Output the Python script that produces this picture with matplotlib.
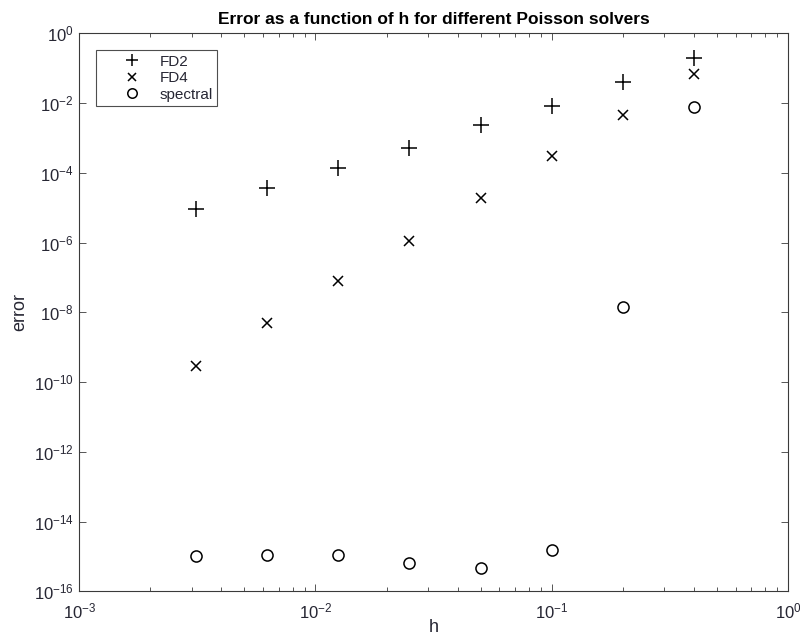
import matplotlib
matplotlib.use("Agg")
import matplotlib.pyplot as plt
from matplotlib.ticker import LogLocator, NullFormatter, NullLocator

plt.rcParams['font.family'] = ['Liberation Sans', 'DejaVu Sans']
plt.rcParams['mathtext.fontset'] = 'custom'
plt.rcParams['mathtext.rm'] = 'Liberation Sans'
plt.rcParams['axes.unicode_minus'] = False

h = [0.4, 0.2, 0.1, 0.05, 0.025, 0.0125, 0.00625, 0.003125]
err_fd2 = [0.19, 0.039, 8.0e-3, 2.3e-3, 5.0e-4, 1.34e-4, 3.6e-5, 8.9e-6]
err_fd4 = [0.067, 4.4e-3, 3.0e-4, 1.85e-5, 1.08e-6, 7.7e-8, 4.8e-9, 2.8e-10]
err_spectral = [7.6e-3, 1.38e-8, 1.5e-15, 4.6e-16, 6.4e-16, 1.12e-15, 1.12e-15, 1.0e-15]
x_tick_exponents = [-3, -2, -1, 0]
y_tick_exponents = [-16, -14, -12, -10, -8, -6, -4, -2, 0]

fig = plt.figure(figsize=(8, 6.4), dpi=100)
ax = fig.add_axes([0.099, 0.076, 0.886, 0.872])

ax.loglog(h, err_fd2, linestyle='none', marker='+', markersize=11, markeredgewidth=1.1,
          color='black', label='FD2')
ax.loglog(h, err_fd4, linestyle='none', marker='x', markersize=7, markeredgewidth=1.1,
          color='black', label='FD4')
ax.loglog(h, err_spectral, linestyle='none', marker='o', markersize=8, markeredgewidth=1.1,
          markerfacecolor='none', color='black', label='spectral')

ax.set_xlim(1e-3, 1e0)
ax.set_ylim(1e-16, 1e0)
ax.set_xticks([10.0 ** e for e in x_tick_exponents])
ax.set_yticks([10.0 ** e for e in y_tick_exponents])
ax.xaxis.set_minor_locator(LogLocator(base=10, subs=range(2, 10), numticks=20))
ax.xaxis.set_minor_formatter(NullFormatter())
ax.yaxis.set_minor_locator(NullLocator())
ax.set_xlim(1e-3, 1e0)
ax.set_ylim(1e-16, 1e0)

edge = '#3a3a3a'
txt = '#262633'
for s in ax.spines.values():
    s.set_color(edge)
    s.set_linewidth(0.8)
ax.tick_params(which='both', direction='in', top=True, right=True, colors=edge,
               labelcolor=txt, labelsize=12, width=0.6)
ax.tick_params(which='major', length=5)
ax.tick_params(which='minor', length=3)
ax.tick_params(axis='x', which='both', pad=7.5)
ax.tick_params(axis='y', which='both', pad=4)

ax.set_title('Error as a function of h for different Poisson solvers',
             fontsize=12.5, fontweight='bold', pad=7)
ax.set_xlabel('h', fontsize=13, color=txt, labelpad=-2)
ax.set_ylabel('error', fontsize=13, color=txt, labelpad=4)

leg = ax.legend(loc='upper left', bbox_to_anchor=(0.0235, 0.97), fontsize=11,
                frameon=True, fancybox=False, edgecolor='#222222', markerscale=0.85,
                borderpad=0.3, labelspacing=0.17, handletextpad=-0.25, handlelength=4.1,
                borderaxespad=0)
leg.get_frame().set_linewidth(0.8)
for t in leg.get_texts():
    t.set_color(txt)

fig.savefig('out.png', dpi=100)
